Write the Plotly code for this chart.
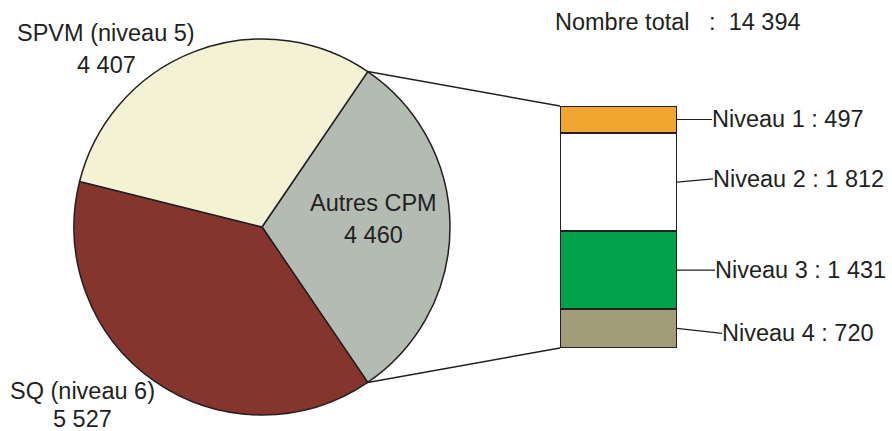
import math
import plotly.graph_objects as go

# Data
pie_labels = ["Autres CPM", "SQ (niveau 6)", "SPVM (niveau 5)"]
pie_values = [4460, 5527, 4407]
pie_colors = ["#B4BBB3", "#86352E", "#F3F2D4"]

niveau_labels = ["Niveau 1", "Niveau 2", "Niveau 3", "Niveau 4"]
niveau_values = [497, 1812, 1431, 720]
niveau_colors = ["#F2A631", "#FFFFFF", "#00A14B", "#A29D78"]

W, H = 892, 431
INK = "#231F20"
FONT = "Liberation Sans, Arial, sans-serif"


def px(x):
    return x / W


def py(y):
    return 1 - y / H


def fmt(n):
    return f"{n:,}".replace(",", " ")


total = sum(pie_values)
other = pie_values[0]
bar_total = sum(niveau_values)

# pie geometry (pixels)
cx, cy, r = 262, 227, 188
# bar geometry (pixels)
bx0, bx1, by0, by1 = 560, 677, 106, 348

fig = go.Figure()

half = 180 * other / total  # half of "Autres" slice, in degrees
fig.add_trace(go.Pie(
    labels=pie_labels, values=pie_values, sort=False,
    direction="clockwise", rotation=90 - half,
    marker=dict(colors=pie_colors, line=dict(color=INK, width=1.5)),
    textinfo="none", hoverinfo="label+value", showlegend=False,
    domain=dict(x=[px(cx - r), px(cx + r)], y=[py(cy + r), py(cy - r)]),
))

for lab, val, col in zip(niveau_labels, niveau_values, niveau_colors):
    fig.add_trace(go.Bar(
        x=[0], y=[val], width=1, name=lab,
        marker=dict(color=col, line=dict(color=INK, width=2)),
        showlegend=False, hoverinfo="name+y",
    ))

fig.update_layout(
    width=W, height=H, margin=dict(l=0, r=0, t=0, b=0),
    paper_bgcolor="white", plot_bgcolor="white",
    barmode="stack", bargap=0,
    font=dict(family=FONT, size=23.5, color=INK),
    xaxis=dict(domain=[px(bx0), px(bx1)], range=[-0.5, 0.5], visible=False),
    yaxis=dict(domain=[py(by1), py(by0)], range=[bar_total, 0], visible=False),
)

# connectors pie -> bar
a = math.radians(half)
for sgn, by in [(-1, by0), (1, by1)]:
    x0 = cx + r * math.cos(a)
    y0 = cy + sgn * r * math.sin(a)
    fig.add_shape(type="line", xref="paper", yref="paper",
                  x0=px(x0), y0=py(y0), x1=px(bx0), y1=py(by),
                  line=dict(color=INK, width=1.5))

# level leader lines and labels
label_x = [712, 713, 715, 722]
label_dy = [0, -60, 0, 90]  # small slope of leaders, in bar units
cum = 0
for lab, val, lx, dy in zip(niveau_labels, niveau_values, label_x, label_dy):
    mid = cum + val / 2
    cum += val
    fig.add_shape(type="line", xref="paper", yref="y",
                  x0=px(bx1), y0=mid, x1=px(lx), y1=mid + dy,
                  line=dict(color=INK, width=1.2))
    fig.add_annotation(x=px(lx - 2), y=mid + dy, xref="paper", yref="y",
                       text=f"{lab} : {fmt(val)}", showarrow=False,
                       xanchor="left", yanchor="middle")

# pie labels
pie_text_pos = {
    "SPVM (niveau 5)": (106, 33, 65),
    "Autres CPM": (373, 203, 235),
    "SQ (niveau 6)": (82, 391, 419),
}
for lab, val in zip(pie_labels, pie_values):
    x, y1, y2 = pie_text_pos[lab]
    fig.add_annotation(x=px(x), y=py(y1), xref="paper", yref="paper",
                       text=lab, showarrow=False, xanchor="center", yanchor="middle")
    fig.add_annotation(x=px(x), y=py(y2), xref="paper", yref="paper",
                       text=fmt(val), showarrow=False, xanchor="center", yanchor="middle")

fig.add_annotation(x=px(553), y=py(22), xref="paper", yref="paper",
                   text=f"Nombre total   :  {fmt(total)}", showarrow=False,
                   xanchor="left", yanchor="middle")

fig.write_html("out.html", config={"displayModeBar": False},
               post_script="document.body.style.margin='0';")
